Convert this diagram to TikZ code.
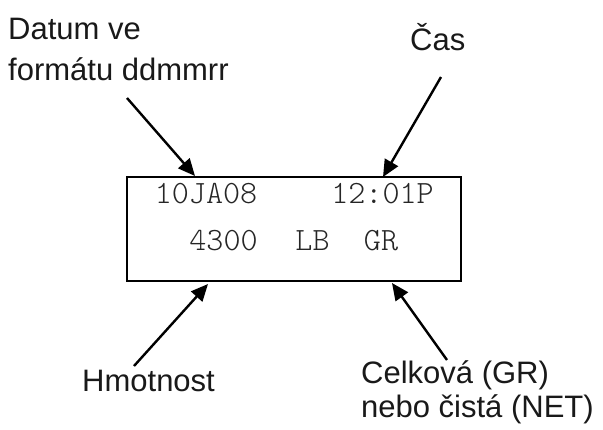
\documentclass[tikz,border=0pt]{standalone}
\usepackage{fontspec}
\setmainfont{Liberation Sans}
\newfontfamily\lcdfont{Latin Modern Mono Light}
\usetikzlibrary{arrows.meta}
\begin{document}
\begin{tikzpicture}[x=1pt,y=-1pt,
  lbl/.style={font=\fontsize{31}{37}\selectfont, anchor=base west, inner sep=0pt, text=black!90},
  lcd/.style={font=\lcdfont\fontsize{32.5}{38}\selectfont, anchor=base, inner sep=0pt, text=black!85},
  arr/.style={-{Triangle[length=17pt,width=15pt]}, line width=2.4pt},
  display/.style={draw, line width=2pt, minimum width=334pt, minimum height=104pt, inner sep=0pt, outer sep=0pt}]
\useasboundingbox (0,0) rectangle (603,429);
\fill[white] (0,0) rectangle (603,429);

% display box
\node[display] (box) at (294,229) {};
\node[lcd] (date) at (206,203) {10JA08};
\node[lcd] (time) at (382.5,203) {12:01P};
\node[lcd] (weight) at (223.5,250.5) {4300};
\node[lcd] (unit) at (312.5,250.5) {LB};
\node[lcd] (mode) at (381,250.5) {GR};

% labels
\node[lbl] (datum1) at (8,39) {Datum ve};
\node[lbl] (datum2) at (8,80) {formátu ddmmrr};
\node[lbl] (cas) at (410,50) {Čas};
\node[lbl] (hmot) at (82,391) {Hmotnost};
\node[lbl] (celk1) at (361,383) {Celková (GR)};
\node[lbl] (celk2) at (361,417) {nebo čistá (NET)};

% arrow ends
\coordinate (s1) at (127,98);
\coordinate (e1) at (195,176);
\coordinate (s2) at (441,77);
\coordinate (e2) at (383,177);
\coordinate (s3) at (134,366);
\coordinate (e3) at (208,284);
\coordinate (s4) at (447,360);
\coordinate (e4) at (392,283);

\draw[arr] (s1) -- (e1);
\draw[arr] (s2) -- (e2);
\draw[arr] (s3) -- (e3);
\draw[arr] (s4) -- (e4);
\end{tikzpicture}
\end{document}
